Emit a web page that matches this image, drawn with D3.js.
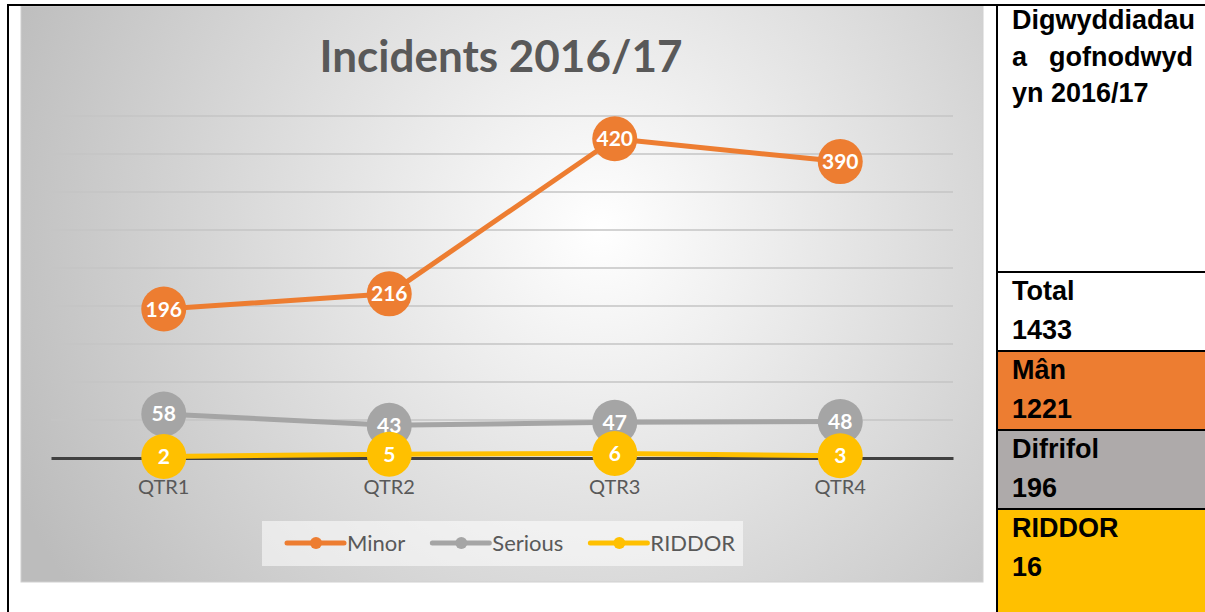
<!DOCTYPE html>
<html>
<head>
<meta charset="utf-8">
<script src="https://cdn.jsdelivr.net/npm/d3@7"></script>
<style>
  body { margin: 0; background: #fff; }
  svg { display: block; }
  .cell_text { font-family: "Liberation Sans", Arial, sans-serif; font-weight: bold; font-size: 27px; fill: #000; }
</style>
</head>
<body>
<div id="chart"></div>
<script>
// data
var quarters = ["QTR1", "QTR2", "QTR3", "QTR4"];
var minor = [196, 216, 420, 390];
var serious = [58, 43, 47, 48];
var riddor = [2, 5, 6, 3];
var seriesNames = ["Minor", "Serious", "RIDDOR"];
var yTickValues = [0, 50, 100, 150, 200, 250, 300, 350, 400, 450];

var titleLines = ["Digwyddiadau", "a", "gofnodwyd", "yn 2016/17"];
var summaryLabels = ["Total", "Mân", "Difrifol", "RIDDOR"];
var summaryValues = [1433, 1221, 196, 16];

var colors = ["#ED7D31", "#A5A5A5", "#FFC000"];
var cellColors = ["#ffffff", "#ED7D31", "#AEAAAA", "#FFC000"];

var W = 1205, H = 612;
var svg = d3.select("#chart").append("svg").attr("width", W).attr("height", H);

var defs = svg.append("defs");
var grad = defs.append("radialGradient")
  .attr("id", "bg")
  .attr("gradientUnits", "userSpaceOnUse")
  .attr("cx", 600).attr("cy", 230).attr("r", 640);
grad.append("stop").attr("offset", "0%").attr("stop-color", "#ffffff");
grad.append("stop").attr("offset", "100%").attr("stop-color", "#bcbcbc");

// chart panel
var panel = {x: 21, y: 6, w: 962, h: 576};
svg.append("rect")
  .attr("x", panel.x).attr("y", panel.y)
  .attr("width", panel.w).attr("height", panel.h)
  .attr("fill", "url(#bg)")
  .attr("stroke", "#d0d0d0").attr("stroke-width", 1);

var plot = {left: 51, right: 953, top: 116, bottom: 458};

var x = d3.scaleBand().domain(quarters).range([plot.left, plot.right]);
var y = d3.scaleLinear().domain([0, 450]).range([plot.bottom, plot.top]);

// gridlines
svg.append("g").selectAll("line")
  .data(yTickValues.slice(1))
  .enter().append("line")
  .attr("x1", plot.left).attr("x2", plot.right)
  .attr("y1", function(d) { return y(d); })
  .attr("y2", function(d) { return y(d); })
  .attr("stroke", "#c4c4c4").attr("stroke-width", 1.5);

// x axis
var xAxis = d3.axisBottom(x).tickSize(0).tickPadding(22);
var gx = svg.append("g")
  .attr("transform", "translate(0," + y(0) + ")")
  .call(xAxis);
gx.select(".domain").attr("stroke", "#404040").attr("stroke-width", 3);
gx.selectAll("text")
  .attr("fill", "#595959")
  .style("font-family", "Lato, 'Open Sans', sans-serif")
  .style("font-size", "20px");

// title
svg.append("text")
  .attr("x", 501).attr("y", 72)
  .attr("text-anchor", "middle")
  .style("font-family", "Lato, 'Open Sans', sans-serif")
  .style("font-weight", "bold")
  .style("font-size", "44px")
  .attr("fill", "#595959")
  .text("Incidents 2016/17");

var allSeries = [minor, serious, riddor];
var line = d3.line()
  .x(function(d, i) { return x(quarters[i]) + x.bandwidth() / 2; })
  .y(function(d) { return y(d); });

allSeries.forEach(function(s, k) {
  svg.append("path")
    .datum(s)
    .attr("d", line)
    .attr("fill", "none")
    .attr("stroke", colors[k])
    .attr("stroke-width", 5)
    .attr("stroke-linejoin", "round");
});

allSeries.forEach(function(s, k) {
  var g = svg.append("g");
  var pts = g.selectAll("g").data(s).enter().append("g")
    .attr("transform", function(d, i) {
      return "translate(" + (x(quarters[i]) + x.bandwidth() / 2) + "," + y(d) + ")";
    });
  pts.append("circle").attr("r", 22.5).attr("fill", colors[k]);
  pts.append("text")
    .attr("text-anchor", "middle")
    .attr("dy", "0.36em")
    .attr("fill", "#fff")
    .style("font-family", "Lato, 'Open Sans', sans-serif")
    .style("font-weight", "bold")
    .style("font-size", "21px")
    .text(function(d) { return d; });
});

// legend
svg.append("rect")
  .attr("x", 262).attr("y", 521).attr("width", 481).attr("height", 45)
  .attr("fill", "#ffffff").attr("fill-opacity", 0.55);

var lx = 287, ly = 543;
seriesNames.forEach(function(name, k) {
  svg.append("line")
    .attr("x1", lx).attr("x2", lx + 57).attr("y1", ly).attr("y2", ly)
    .attr("stroke", colors[k]).attr("stroke-width", 5).attr("stroke-linecap", "round");
  svg.append("circle").attr("cx", lx + 29).attr("cy", ly).attr("r", 6).attr("fill", colors[k]);
  var t = svg.append("text")
    .attr("x", lx + 60).attr("y", ly).attr("dy", "0.35em")
    .attr("fill", "#595959")
    .style("font-family", "Lato, 'Open Sans', sans-serif")
    .style("font-size", "22px")
    .text(name);
  lx = lx + 60 + t.node().getComputedTextLength() + 27;
});

// table cells on the right
var colX = 997;
var rowTops = [272, 351, 430, 509];
var rowBottoms = [351, 430, 509, H];
summaryLabels.forEach(function(lab, i) {
  svg.append("rect")
    .attr("x", colX).attr("y", rowTops[i])
    .attr("width", W - colX).attr("height", rowBottoms[i] - rowTops[i])
    .attr("fill", cellColors[i]);
});

// header cell text
svg.append("text").attr("class", "cell_text").attr("x", 1012).attr("y", 29).text(titleLines[0]);
svg.append("text").attr("class", "cell_text").attr("x", 1012).attr("y", 66).text(titleLines[1]);
svg.append("text").attr("class", "cell_text").attr("x", 1193).attr("y", 66)
  .attr("text-anchor", "end").text(titleLines[2]);
svg.append("text").attr("class", "cell_text").attr("x", 1012).attr("y", 102).text(titleLines[3]);

var labelBase = [300, 379, 458, 537];
summaryLabels.forEach(function(lab, i) {
  svg.append("text").attr("class", "cell_text").attr("x", 1012).attr("y", labelBase[i]).text(lab);
  svg.append("text").attr("class", "cell_text").attr("x", 1012).attr("y", labelBase[i] + 39).text(summaryValues[i]);
});

// table borders
svg.append("line").attr("x1", 8).attr("x2", W).attr("y1", 5).attr("y2", 5)
  .attr("stroke", "#000").attr("stroke-width", 2);
svg.append("line").attr("x1", 8).attr("x2", 8).attr("y1", 4).attr("y2", H)
  .attr("stroke", "#000").attr("stroke-width", 2);
svg.append("line").attr("x1", colX).attr("x2", colX).attr("y1", 4).attr("y2", H)
  .attr("stroke", "#000").attr("stroke-width", 2);
rowTops.forEach(function(yy) {
  svg.append("line").attr("x1", colX).attr("x2", W).attr("y1", yy).attr("y2", yy)
    .attr("stroke", "#000").attr("stroke-width", 2);
});
</script>
</body>
</html>
